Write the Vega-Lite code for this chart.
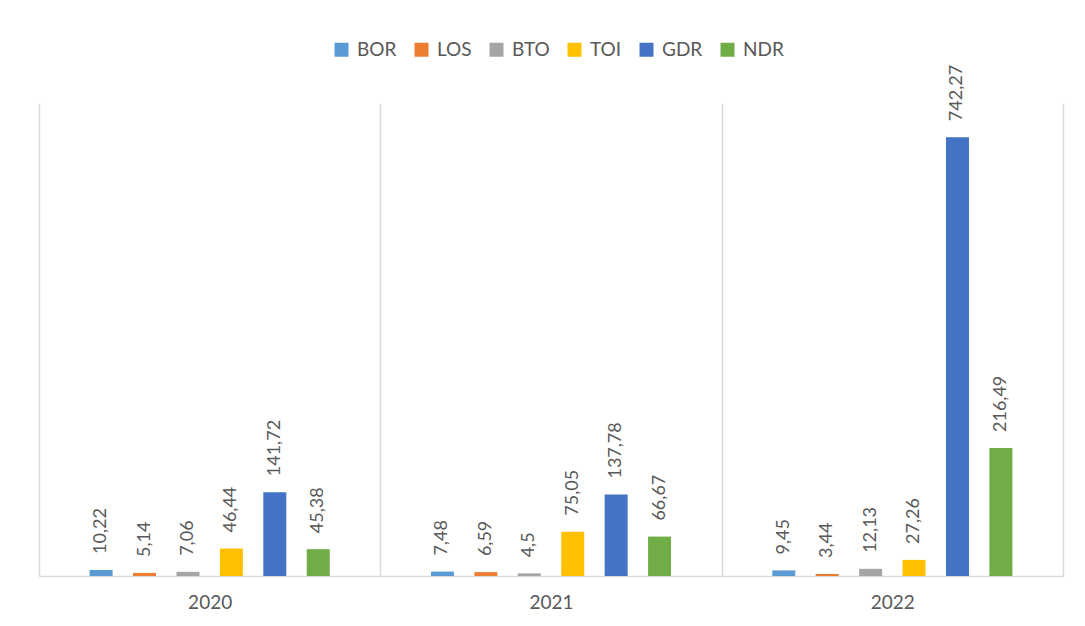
{
  "$schema": "https://vega.github.io/schema/vega-lite/v6.json",
  "width": 1024,
  "height": 473,
  "autosize": {"type": "none"},
  "padding": {"left": 39, "top": 103, "right": 22, "bottom": 50},
  "background": "white",
  "config": {
    "locale": {"number": {"decimal": ",", "thousands": ".", "grouping": [3], "currency": ["", ""]}},
    "view": {"stroke": null},
    "font": "Lato"
  },
  "data": {
    "values": [
      {"year": "2020", "series": "BOR", "value": 10.22},
      {"year": "2020", "series": "LOS", "value": 5.14},
      {"year": "2020", "series": "BTO", "value": 7.06},
      {"year": "2020", "series": "TOI", "value": 46.44},
      {"year": "2020", "series": "GDR", "value": 141.72},
      {"year": "2020", "series": "NDR", "value": 45.38},
      {"year": "2021", "series": "BOR", "value": 7.48},
      {"year": "2021", "series": "LOS", "value": 6.59},
      {"year": "2021", "series": "BTO", "value": 4.5},
      {"year": "2021", "series": "TOI", "value": 75.05},
      {"year": "2021", "series": "GDR", "value": 137.78},
      {"year": "2021", "series": "NDR", "value": 66.67},
      {"year": "2022", "series": "BOR", "value": 9.45},
      {"year": "2022", "series": "LOS", "value": 3.44},
      {"year": "2022", "series": "BTO", "value": 12.13},
      {"year": "2022", "series": "TOI", "value": 27.26},
      {"year": "2022", "series": "GDR", "value": 742.27},
      {"year": "2022", "series": "NDR", "value": 216.49}
    ]
  },
  "encoding": {
    "x": {
      "field": "year",
      "type": "nominal",
      "scale": {"paddingInner": 0, "paddingOuter": 0},
      "axis": {
        "title": null,
        "labelAngle": 0,
        "labelFontSize": 19,
        "labelColor": "#595959",
        "labelPadding": 17,
        "ticks": false,
        "domainColor": "#d9d9d9",
        "domainWidth": 1.5,
        "grid": true,
        "gridColor": "#d9d9d9",
        "gridWidth": 1.5,
        "tickBand": "extent"
      }
    },
    "xOffset": {
      "field": "series",
      "type": "nominal",
      "sort": ["BOR", "LOS", "BTO", "TOI", "GDR", "NDR"],
      "scale": {"paddingInner": 0.14, "paddingOuter": 1}
    },
    "y": {
      "field": "value",
      "type": "quantitative",
      "scale": {"domain": [0, 800]},
      "axis": null
    }
  },
  "layer": [
    {
      "mark": {"type": "bar", "width": 23},
      "encoding": {
        "color": {
          "field": "series",
          "type": "nominal",
          "sort": ["BOR", "LOS", "BTO", "TOI", "GDR", "NDR"],
          "scale": {
            "domain": ["BOR", "LOS", "BTO", "TOI", "GDR", "NDR"],
            "range": ["#5B9BD5", "#ED7D31", "#A5A5A5", "#FFC000", "#4472C4", "#70AD47"]
          },
          "legend": {
            "title": null,
            "orient": "none",
            "direction": "horizontal",
            "legendX": 293,
            "legendY": -63,
            "symbolType": "square",
            "symbolSize": 196,
            "symbolStrokeWidth": 0,
            "labelFontSize": 19,
            "labelColor": "#595959",
            "labelOffset": 6,
            "columnPadding": 15
          }
        }
      }
    },
    {
      "mark": {
        "type": "text",
        "angle": 270,
        "align": "left",
        "baseline": "middle",
        "dx": 16,
        "fontSize": 18,
        "color": "#595959"
      },
      "encoding": {
        "text": {"field": "value", "type": "quantitative", "format": ".2~f"}
      }
    }
  ]
}
